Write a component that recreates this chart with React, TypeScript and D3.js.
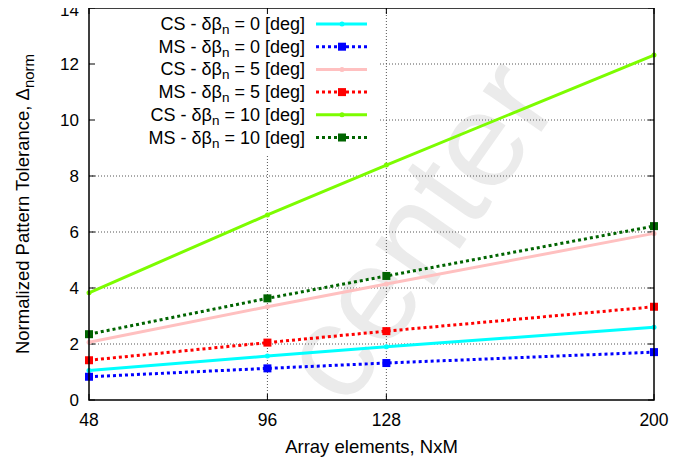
import React, { useRef, useEffect } from "react";
import * as d3 from "d3";

// array sizes (x) and tolerance values per series
const elements = [48, 96, 128, 200];
const cs0 = [1.05, 1.57, 1.9, 2.6];
const ms0 = [0.83, 1.13, 1.32, 1.71];
const cs5 = [2.06, 3.33, 4.14, 5.95];
const ms5 = [1.42, 2.05, 2.46, 3.33];
const cs10 = [3.83, 6.61, 8.39, 12.32];
const ms10 = [2.35, 3.63, 4.43, 6.21];
const yTicks = [0, 2, 4, 6, 8, 10, 12, 14];

const series = [
  { kind: "CS", deg: 0, values: cs0, color: "#00ffff", dashed: false },
  { kind: "MS", deg: 0, values: ms0, color: "#0000ff", dashed: true },
  { kind: "CS", deg: 5, values: cs5, color: "#ffc0c0", dashed: false },
  { kind: "MS", deg: 5, values: ms5, color: "#ff0000", dashed: true },
  { kind: "CS", deg: 10, values: cs10, color: "#7cfc00", dashed: false },
  { kind: "MS", deg: 10, values: ms10, color: "#006400", dashed: true },
];

const W = 694;
const H = 466;
const m = { left: 89, right: 40, top: 8, bottom: 66 };

function App() {
  const ref = useRef(null);

  useEffect(() => {
    const svg = d3.select(ref.current).html("");
    const font = "'Liberation Sans', Arial, sans-serif";

    const x = d3.scaleLinear().domain([48, 200]).range([m.left, W - m.right]);
    const y = d3.scaleLinear().domain([0, 14]).range([H - m.bottom, m.top]);
    const [x0, x1] = x.range();
    const [y0, y1] = y.range();

    svg.append("rect").attr("width", W).attr("height", H).attr("fill", "white");

    // watermark in the background
    svg
      .append("text")
      .attr("transform", "translate(425,236) rotate(-55)")
      .attr("text-anchor", "middle")
      .attr("dominant-baseline", "middle")
      .attr("font-family", font)
      .attr("font-size", 135)
      .attr("fill", "#ebebeb")
      .text("center");

    // grid
    const grid = svg.append("g").attr("stroke", "#555").attr("stroke-width", 1).attr("stroke-dasharray", "1,2");
    yTicks.slice(1, -1).forEach((t) => {
      grid.append("line").attr("x1", x0).attr("x2", x1).attr("y1", y(t)).attr("y2", y(t));
    });
    elements.slice(1, -1).forEach((t) => {
      grid.append("line").attr("x1", x(t)).attr("x2", x(t)).attr("y1", y0).attr("y2", y1);
    });

    // legend background hides grid
    svg.append("rect").attr("x", x0 + 1).attr("y", y1 + 1).attr("width", 290).attr("height", 145).attr("fill", "white");

    // ticks, mirrored
    const ticks = svg.append("g").attr("stroke", "black").attr("stroke-width", 1);
    yTicks.forEach((t) => {
      ticks.append("line").attr("x1", x0).attr("x2", x0 + 6).attr("y1", y(t)).attr("y2", y(t));
      ticks.append("line").attr("x1", x1).attr("x2", x1 - 6).attr("y1", y(t)).attr("y2", y(t));
    });
    elements.forEach((t) => {
      ticks.append("line").attr("x1", x(t)).attr("x2", x(t)).attr("y1", y0).attr("y2", y0 - 6);
      ticks.append("line").attr("x1", x(t)).attr("x2", x(t)).attr("y1", y1).attr("y2", y1 + 6);
    });

    // tick labels
    svg
      .append("g")
      .selectAll("text")
      .data(yTicks)
      .join("text")
      .attr("x", x0 - 10)
      .attr("y", (d) => Math.max(y(d) + 6, 16))
      .attr("text-anchor", "end")
      .attr("font-family", font)
      .attr("font-size", 17)
      .text((d) => d);
    svg
      .append("g")
      .selectAll("text")
      .data(elements)
      .join("text")
      .attr("x", (d) => x(d))
      .attr("y", y0 + 26)
      .attr("text-anchor", "middle")
      .attr("font-family", font)
      .attr("font-size", 17.5)
      .text((d) => d);

    // axis labels
    svg
      .append("text")
      .attr("x", (x0 + x1) / 2)
      .attr("y", 453)
      .attr("text-anchor", "middle")
      .attr("font-family", font)
      .attr("font-size", 18.5)
      .text("Array elements, NxM");
    const yl = svg
      .append("text")
      .attr("transform", `translate(29,${(y0 + y1) / 2}) rotate(-90)`)
      .attr("text-anchor", "middle")
      .attr("font-family", font)
      .attr("font-size", 18.5);
    yl.append("tspan").text("Normalized Pattern Tolerance, \u0394");
    yl.append("tspan").attr("dy", 5).attr("font-size", 15).text("norm");

    // data lines
    const line = d3
      .line()
      .x((d, i) => x(elements[i]))
      .y((d) => y(d));

    const drawMarker = (g, s, cx, cy) => {
      if (s.dashed) {
        g.append("rect").attr("x", cx - 4).attr("y", cy - 4).attr("width", 8).attr("height", 8).attr("fill", s.color);
      } else {
        g.append("circle").attr("cx", cx).attr("cy", cy).attr("r", 2.5).attr("fill", s.color);
      }
    };

    series.forEach((s) => {
      const g = svg.append("g");
      g.append("path")
        .attr("d", line(s.values))
        .attr("fill", "none")
        .attr("stroke", s.color)
        .attr("stroke-width", 3)
        .attr("stroke-dasharray", s.dashed ? "3,3" : null);
      s.values.forEach((v, i) => drawMarker(g, s, x(elements[i]), y(v)));
    });

    // legend
    series.forEach((s, i) => {
      const ly = 24 + i * 22.7;
      const g = svg.append("g");
      const t = g
        .append("text")
        .attr("x", 305)
        .attr("y", ly + 6)
        .attr("text-anchor", "end")
        .attr("font-family", font)
        .attr("font-size", 18);
      t.append("tspan").text(`${s.kind} - \u03b4\u03b2`);
      t.append("tspan").attr("dy", 4).attr("font-size", 13.5).text("n");
      t.append("tspan").attr("dy", -4).text(` = ${s.deg} [deg]`);
      g.append("line")
        .attr("x1", 316)
        .attr("x2", 367)
        .attr("y1", ly)
        .attr("y2", ly)
        .attr("stroke", s.color)
        .attr("stroke-width", 3)
        .attr("stroke-dasharray", s.dashed ? "3,3" : null);
      drawMarker(g, s, 342, ly);
    });

    // frame
    svg
      .append("rect")
      .attr("x", x0)
      .attr("y", y1)
      .attr("width", x1 - x0)
      .attr("height", y0 - y1)
      .attr("fill", "none")
      .attr("stroke", "black")
      .attr("stroke-width", 1.5);
  }, []);

  return <svg ref={ref} width={W} height={H} style={{ display: "block", margin: -8 }} />;
}

export default App;
